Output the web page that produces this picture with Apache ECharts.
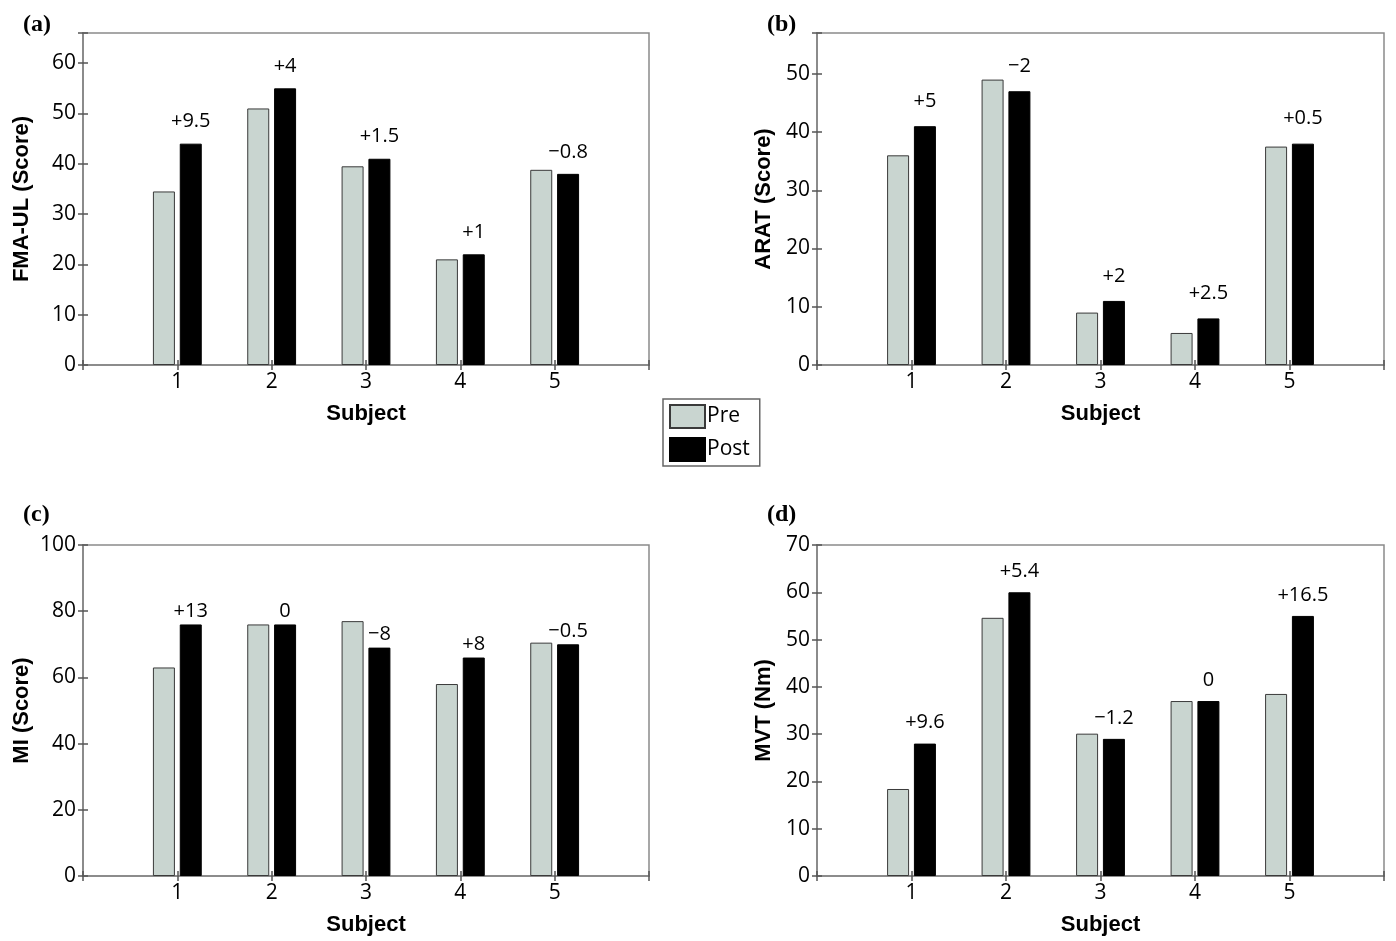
<!DOCTYPE html>
<html>
<head>
<meta charset="utf-8">
<script src="https://cdn.jsdelivr.net/npm/echarts@6/dist/echarts.min.js"></script>
<style>
  html, body { margin: 0; padding: 0; background: #fff; }
  #chart { width: 1396px; height: 941px; }
</style>
</head>
<body>
<div id="chart"></div>
<script>
const subjects = [1, 2, 3, 4, 5];

// (a) FMA-UL
const fmaPre = [34.5, 51, 39.5, 21, 38.8];
const fmaPost = [44, 55, 41, 22, 38];
const fmaChange = ['+9.5', '+4', '+1.5', '+1', '\u22120.8'];

// (b) ARAT
const aratPre = [36, 49, 9, 5.5, 37.5];
const aratPost = [41, 47, 11, 8, 38];
const aratChange = ['+5', '\u22122', '+2', '+2.5', '+0.5'];

// (c) MI
const miPre = [63, 76, 77, 58, 70.5];
const miPost = [76, 76, 69, 66, 70];
const miChange = ['+13', '0', '\u22128', '+8', '\u22120.5'];

// (d) MVT
const mvtPre = [18.4, 54.6, 30.1, 37, 38.5];
const mvtPost = [28, 60, 29, 37, 55];
const mvtChange = ['+9.6', '+5.4', '\u22121.2', '0', '+16.5'];

const tickFont = '"Open Sans", "Noto Sans", sans-serif';
const boldFont = '"Liberation Sans", Arial, sans-serif';
const preColor = '#c9d5d0';
const axisColor = '#8a8a8a';

// panel layout, pixels
const panels = [
  { letter: '(a)', name: 'FMA-UL (Score)', pre: fmaPre, post: fmaPost, change: fmaChange,
    max: 66, step: 10, grid: { left: 83, top: 33, width: 566, height: 332 }, nameGap: 50, labelDist: 12 },
  { letter: '(b)', name: 'ARAT (Score)', pre: aratPre, post: aratPost, change: aratChange,
    max: 57, step: 10, grid: { left: 817, top: 33, width: 567, height: 332 }, nameGap: 42, labelDist: 15 },
  { letter: '(c)', name: 'MI (Score)', pre: miPre, post: miPost, change: miChange,
    max: 100, step: 20, grid: { left: 83, top: 545, width: 566, height: 331 }, nameGap: 50, labelDist: 3 },
  { letter: '(d)', name: 'MVT (Nm)', pre: mvtPre, post: mvtPost, change: mvtChange,
    max: 70, step: 10, grid: { left: 817, top: 545, width: 567, height: 331 }, nameGap: 42, labelDist: 11 }
];

const chart = echarts.init(document.getElementById('chart'));

const grid = [], xAxis = [], yAxis = [], series = [], title = [];

panels.forEach((p, i) => {
  grid.push({ ...p.grid, show: true, borderColor: axisColor, borderWidth: 1.5, backgroundColor: '#fff' });

  title.push({
    text: p.letter,
    left: i % 2 === 0 ? 18 : 762,
    top: i < 2 ? 8 : 498,
    textStyle: { fontFamily: '"Liberation Serif", "Times New Roman", serif', fontWeight: 'bold', fontSize: 24, color: '#000' }
  });

  const tickStyle = { show: true, inside: true, length: 5, lineStyle: { color: '#555', width: 1.5 } };

  // bottom x axis
  xAxis.push({
    type: 'value', gridIndex: i, min: 0, max: 6, interval: 1,
    name: 'Subject', nameLocation: 'middle', nameGap: 38,
    nameTextStyle: { fontFamily: boldFont, fontWeight: 'bold', fontSize: 22, color: '#000' },
    axisLine: { show: true, lineStyle: { color: axisColor, width: 1.5 } },
    axisTick: tickStyle,
    axisLabel: {
      margin: 7, fontFamily: tickFont, fontSize: 21, color: '#000',
      formatter: (v) => (subjects.includes(v) ? String(v) : '')
    },
    splitLine: { show: false }
  });
  // top x axis (ticks only)
  xAxis.push({
    type: 'value', gridIndex: i, min: 0, max: 6, interval: 1, position: 'top',
    axisLine: { show: true, lineStyle: { color: axisColor, width: 1.5 } },
    axisTick: tickStyle, axisLabel: { show: false }, splitLine: { show: false }
  });

  // left y axis
  yAxis.push({
    type: 'value', gridIndex: i, min: 0, max: p.max, interval: p.step,
    name: p.name, nameLocation: 'middle', nameGap: p.nameGap,
    nameTextStyle: { fontFamily: boldFont, fontWeight: 'bold', fontSize: 22, color: '#000' },
    axisLine: { show: true, lineStyle: { color: axisColor, width: 1.5 } },
    axisTick: tickStyle,
    axisLabel: {
      margin: 7, fontFamily: tickFont, fontSize: 21, color: '#000',
      formatter: (v) => (v % p.step === 0 ? String(v) : '')
    },
    splitLine: { show: false }
  });
  // right y axis (ticks only)
  yAxis.push({
    type: 'value', gridIndex: i, min: 0, max: p.max, interval: p.step, position: 'right',
    axisLine: { show: true, lineStyle: { color: axisColor, width: 1.5 } },
    axisTick: tickStyle, axisLabel: { show: false }, splitLine: { show: false }
  });

  const xi = i * 2, yi = i * 2;
  series.push({
    name: 'Pre', type: 'bar', xAxisIndex: xi, yAxisIndex: yi,
    barWidth: 22, barGap: '22%',
    itemStyle: { color: preColor, borderColor: '#3a3a3a', borderWidth: 1 },
    data: subjects.map((s, k) => [s, p.pre[k]])
  });
  series.push({
    name: 'Post', type: 'bar', xAxisIndex: xi, yAxisIndex: yi,
    barWidth: 22, barGap: '22%',
    itemStyle: { color: '#000', borderColor: '#000', borderWidth: 1 },
    label: {
      show: true, position: 'top', distance: p.labelDist,
      fontFamily: tickFont, fontSize: 20, color: '#000',
      formatter: (params) => p.change[params.dataIndex]
    },
    data: subjects.map((s, k) => [s, p.post[k]])
  });
});

chart.setOption({
  animation: false,
  backgroundColor: '#fff',
  title,
  legend: {
    data: ['Pre', 'Post'],
    orient: 'vertical',
    left: 663, top: 399,
    icon: 'rect',
    itemWidth: 35, itemHeight: 23, itemGap: 8,
    padding: [5, 10, 4, 6],
    borderColor: '#666', borderWidth: 1.5,
    textStyle: { fontFamily: tickFont, fontSize: 21, color: '#000', padding: [0, 0, 0, -3] },
    selectedMode: false
  },
  grid, xAxis, yAxis, series
});
</script>
</body>
</html>
